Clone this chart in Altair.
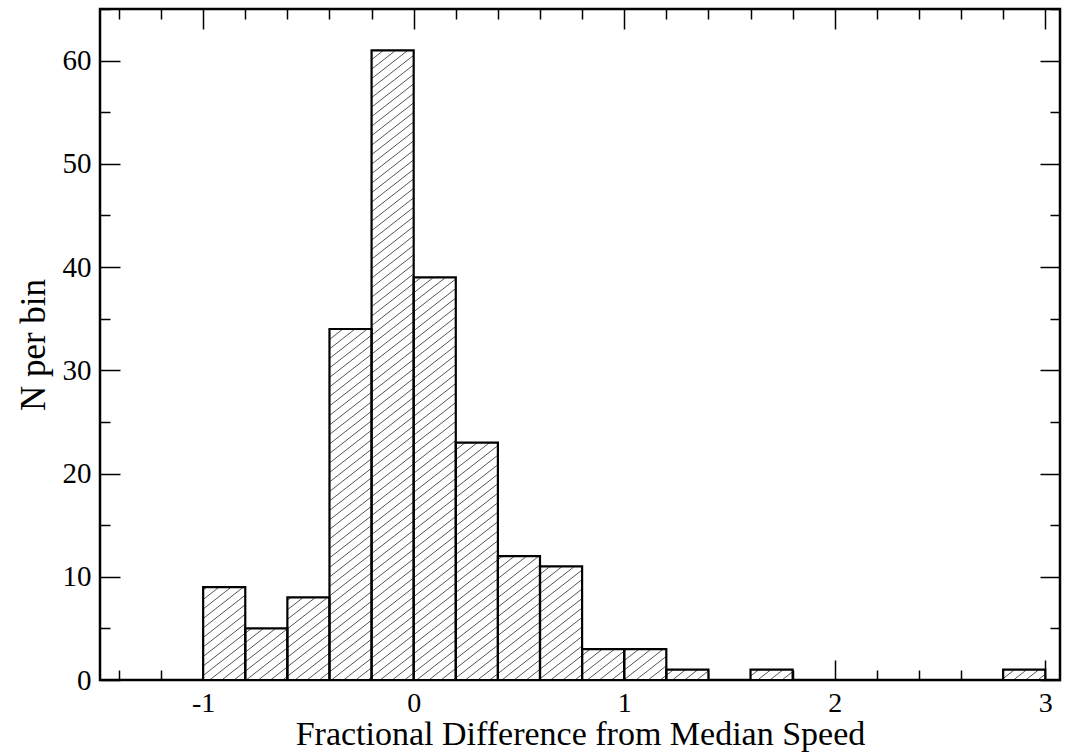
import altair as alt
import pandas as pd
import numpy as np

# ---- data ----
bin_left = [-1.0, -0.8, -0.6, -0.4, -0.2, 0.0, 0.2, 0.4, 0.6, 0.8, 1.0, 1.2, 1.6, 2.8]
bin_right = [-0.8, -0.6, -0.4, -0.2, 0.0, 0.2, 0.4, 0.6, 0.8, 1.0, 1.2, 1.4, 1.8, 3.0]
counts = [9, 5, 8, 34, 61, 39, 23, 12, 11, 3, 3, 1, 1, 1]

x_major = [-1, 0, 1, 2, 3]
x_minor = [-1.4, -1.2, -1.0, -0.8, -0.6, -0.4, -0.2, 0.0, 0.2, 0.4, 0.6, 0.8, 1.0, 1.2,
           1.4, 1.6, 1.8, 2.0, 2.2, 2.4, 2.6, 2.8, 3.0]
y_major = [0, 10, 20, 30, 40, 50, 60]
y_minor = [0, 5, 10, 15, 20, 25, 30, 35, 40, 45, 50, 55, 60, 65]

XMIN, XMAX = -1.49, 3.07
YMIN, YMAX = 0, 65
W, H = 960, 671
FONT = "Liberation Serif"

bars = pd.DataFrame({"x0": bin_left, "x1": bin_right, "n": counts, "base": [0] * len(counts)})

# ---- hatch segments (derived from the bars; style: slope & spacing in pixels) ----
sx = W / (XMAX - XMIN)
sy = H / (YMAX - YMIN)
slope = 0.78
spacing = 9.5
segs = []
for a, b, n in zip(bin_left, bin_right, counts):
    X0, X1 = (a - XMIN) * sx, (b - XMIN) * sx
    Hh = n * sy
    cmin = -slope * X1 - spacing
    cmax = Hh - slope * X0 + spacing
    k0 = int(np.floor(cmin / spacing))
    k1 = int(np.ceil(cmax / spacing))
    for k in range(k0, k1 + 1):
        c = k * spacing
        pa = max(X0, (0 - c) / slope)
        pb = min(X1, (Hh - c) / slope)
        if pb - pa > 0.5:
            segs.append({
                "hx0": pa / sx + XMIN, "hx1": pb / sx + XMIN,
                "hy0": (slope * pa + c) / sy, "hy1": (slope * pb + c) / sy,
            })
hatch = pd.DataFrame(segs)

xs = alt.Scale(domain=[XMIN, XMAX], nice=False, zero=False)
ys = alt.Scale(domain=[YMIN, YMAX], nice=False, zero=False)

x_tick_cond = {"condition": {"test": "abs(datum.value - round(datum.value)) < 0.001", "value": 20}, "value": 10}
y_tick_cond = {"condition": {"test": "datum.value % 10 === 0", "value": 20}, "value": 10}

common_tick = dict(labels=False, domain=False, grid=False, title=None,
                   tickColor="black", tickWidth=1.5)

# Layer 1: white bar fill + labelled axes
fill = alt.Chart(bars).mark_rect(fill="white", stroke=None).encode(
    x=alt.X("x0:Q", scale=xs, axis=alt.Axis(
        orient="bottom", values=x_major, ticks=False, domain=False, grid=False,
        labelExpr="'' + datum.value", labelFont=FONT, labelFontSize=28,
        labelColor="black", labelPadding=9,
        title="Fractional Difference from Median Speed", titleFont=FONT,
        titleFontSize=34, titleFontWeight="normal", titleColor="black", titlePadding=0)),
    x2="x1:Q",
    y=alt.Y("n:Q", scale=ys, axis=alt.Axis(
        orient="left", values=y_major, ticks=False, domain=False, grid=False,
        labelFont=FONT, labelFontSize=29, labelColor="black", labelPadding=9,
        title="N per bin", titleFont=FONT, titleFontSize=35,
        titleFontWeight="normal", titleColor="black", titlePadding=11)),
    y2="base:Q",
)

# Layer 2: hatch lines + inward ticks on bottom and left edges
hatch_layer = alt.Chart(hatch).mark_rule(stroke="#555555", strokeWidth=1).encode(
    x=alt.X("hx0:Q", scale=xs, axis=alt.Axis(orient="top", offset=-H, values=x_minor,
                                            tickSize=x_tick_cond, **common_tick)),
    x2="hx1:Q",
    y=alt.Y("hy0:Q", scale=ys, axis=alt.Axis(orient="right", offset=-W, values=y_minor,
                                            tickSize=y_tick_cond, **common_tick)),
    y2="hy1:Q",
)

# Layer 3: bar outlines + inward ticks on top and right edges
outline = alt.Chart(bars).mark_rect(fill=None, stroke="black", strokeWidth=2.2).encode(
    x=alt.X("x0:Q", scale=xs, axis=alt.Axis(orient="bottom", offset=-H, values=x_minor,
                                           tickSize=x_tick_cond, **common_tick)),
    x2="x1:Q",
    y=alt.Y("n:Q", scale=ys, axis=alt.Axis(orient="left", offset=-W, values=y_minor,
                                          tickSize=y_tick_cond, **common_tick)),
    y2="base:Q",
)

chart = alt.layer(fill, hatch_layer, outline).resolve_axis(
    x="independent", y="independent"
).properties(
    width=W, height=H,
    autosize=alt.AutoSizeParams(type="none"),
    padding={"left": 100, "top": 9, "right": 6, "bottom": 73},
    background="white",
).configure_view(stroke="black", strokeWidth=2.5)

chart.save("out.html", embed_options={"renderer": "svg", "actions": False})
